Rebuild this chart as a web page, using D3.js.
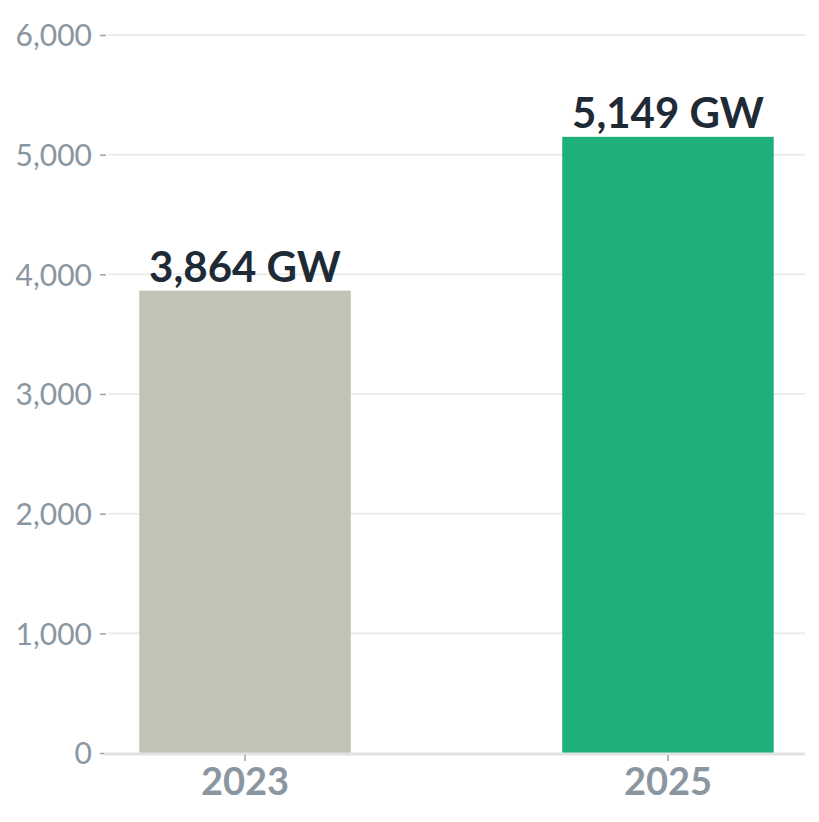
<!DOCTYPE html>
<html>
<head>
<meta charset="utf-8">
<script src="https://cdn.jsdelivr.net/npm/d3@7"></script>
<style>
  body { margin: 0; background: #fff; }
  svg { display: block; }
  svg text { font-family: Lato, "Noto Sans", sans-serif; }
</style>
</head>
<body>
<div id="chart"></div>
<script>
const years = ["2023", "2025"];
const capacity = [3864, 5149];
const barColors = ["#c2c2b7", "#1db07a"];
const yTicks = [0, 1000, 2000, 3000, 4000, 5000, 6000];

const width = 819, height = 822;

const svg = d3.select("#chart")
  .append("svg")
  .attr("width", width)
  .attr("height", height);

const x = d3.scaleBand()
  .domain(years)
  .range([108, 805])
  .paddingInner(0.5)
  .paddingOuter(0.074);

const y = d3.scaleLinear()
  .domain([0, 6000])
  .range([753, 35]);

// gridlines
svg.append("g")
  .selectAll("line")
  .data(yTicks.filter(d => d > 0))
  .join("line")
  .attr("x1", 108)
  .attr("x2", 805)
  .attr("y1", d => y(d))
  .attr("y2", d => y(d))
  .attr("stroke", "#ebeced")
  .attr("stroke-width", 2);

// y axis
const yAxis = svg.append("g")
  .attr("transform", "translate(106,0)")
  .call(d3.axisLeft(y).tickValues(yTicks).tickFormat(d3.format(",")).tickSize(6).tickPadding(8));
yAxis.attr("font-family", null);
yAxis.select(".domain").remove();
yAxis.selectAll(".tick line").attr("stroke", "#9aa3ab").attr("stroke-width", 1.5);
yAxis.selectAll(".tick text")
  .attr("fill", "#8a96a0")
  .style("font-size", "30px")
  .attr("dy", "0.36em");

// bars
svg.append("g")
  .selectAll("rect")
  .data(years)
  .join("rect")
  .attr("x", d => x(d))
  .attr("width", x.bandwidth())
  .attr("y", (d, i) => y(capacity[i]))
  .attr("height", (d, i) => y(0) - y(capacity[i]))
  .attr("fill", (d, i) => barColors[i]);

// baseline
svg.append("line")
  .attr("x1", 104)
  .attr("x2", 805)
  .attr("y1", y(0) + 1)
  .attr("y2", y(0) + 1)
  .attr("stroke", "#dfe3e5")
  .attr("stroke-width", 3);

// x axis
const xAxis = svg.append("g")
  .attr("transform", `translate(0,${y(0) + 2})`)
  .call(d3.axisBottom(x).tickSize(6).tickPadding(7));
xAxis.attr("font-family", null);
xAxis.select(".domain").remove();
xAxis.selectAll(".tick line").attr("stroke", "#9aa3ab").attr("stroke-width", 1.5);
xAxis.selectAll(".tick text")
  .attr("fill", "#8a96a0")
  .style("font-size", "38px")
  .style("font-weight", "700");

// value labels
svg.append("g")
  .selectAll("text")
  .data(years)
  .join("text")
  .attr("x", d => x(d) + x.bandwidth() / 2)
  .attr("y", (d, i) => y(capacity[i]) - 9)
  .attr("text-anchor", "middle")
  .attr("fill", "#1e2b37")
  .style("font-size", "42px")
  .style("font-weight", "700")
  .text((d, i) => d3.format(",")(capacity[i]) + " GW");
</script>
</body>
</html>
